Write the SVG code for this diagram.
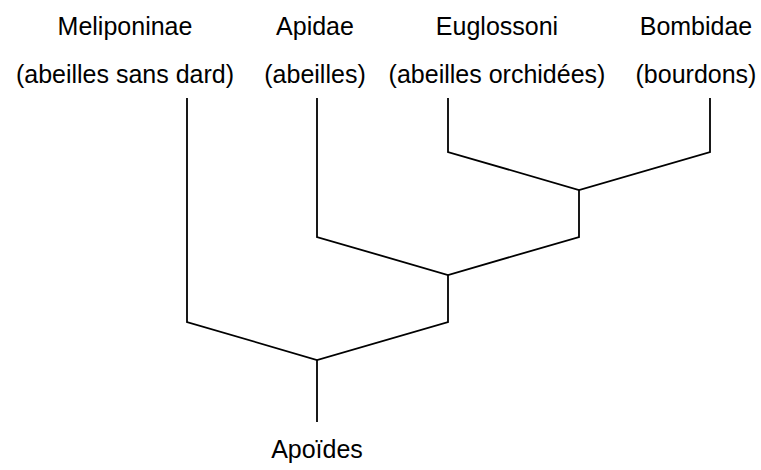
<svg xmlns="http://www.w3.org/2000/svg" width="761" height="470" viewBox="0 0 761 470">
<style>
.t{font-family:"Liberation Sans",Arial,sans-serif;font-size:25px;fill:#000;text-anchor:middle}
.e{fill:none;stroke:#000;stroke-width:1.8;stroke-linejoin:miter}
</style>
<rect width="761" height="470" fill="#fff"/>
<g id="meliponinae"><text class="t" x="125" y="35">Meliponinae</text><text class="t" x="125" y="83">(abeilles sans dard)</text></g>
<g id="apidae"><text class="t" x="315" y="35">Apidae</text><text class="t" x="315" y="83">(abeilles)</text></g>
<g id="euglossoni"><text class="t" x="497" y="35">Euglossoni</text><text class="t" x="497" y="83">(abeilles orchidées)</text></g>
<g id="bombidae"><text class="t" x="696" y="35">Bombidae</text><text class="t" x="696" y="83">(bourdons)</text></g>
<g id="apoides"><text class="t" x="317" y="458">Apoïdes</text></g>
<g id="connectors">
<polyline class="e" points="187,98 187,322 317,360 448,322 448,275"/>
<polyline class="e" points="317,98 317,237 448,275 579,237 579,190"/>
<polyline class="e" points="448,98 448,152 579,190 710,152 710,98"/>
<line class="e" x1="317" y1="360" x2="317" y2="422"/>
</g>
</svg>
